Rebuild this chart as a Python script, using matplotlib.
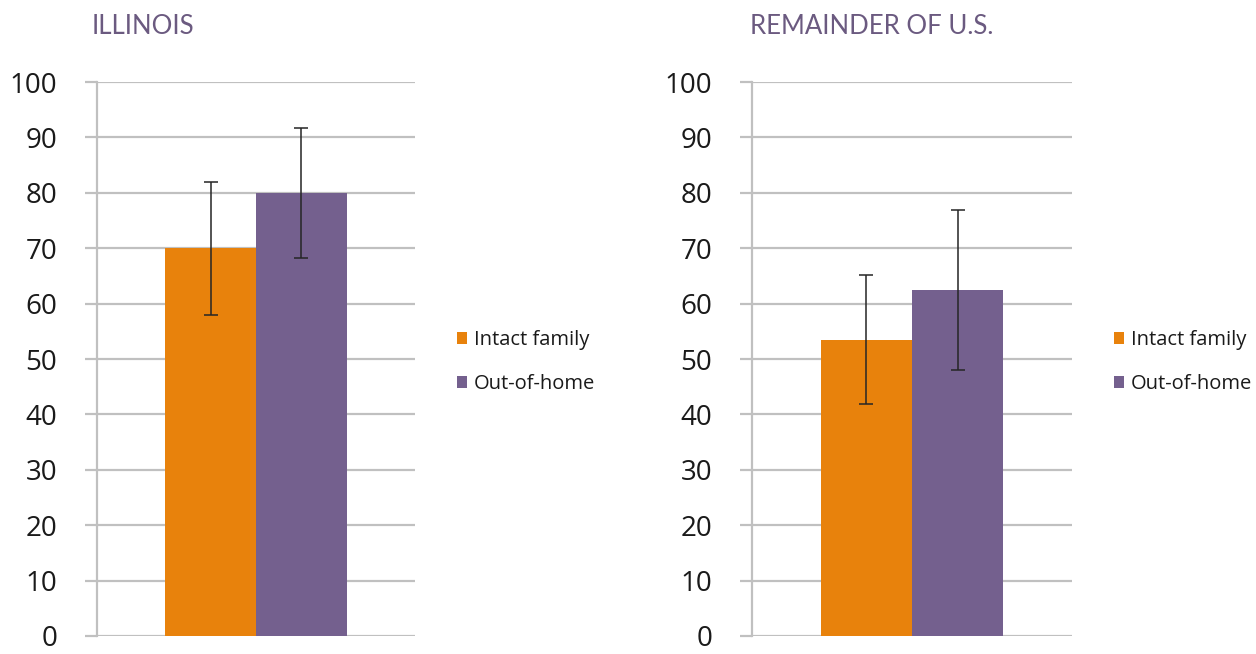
import matplotlib
matplotlib.use("Agg")
import matplotlib.pyplot as plt
from matplotlib.patches import Patch

panels = ["ILLINOIS", "REMAINDER OF U.S."]
series = ["Intact family", "Out-of-home"]
intact_values = [70.0, 53.5]
outofhome_values = [80.0, 62.5]
intact_err = [12.0, 11.7]
outofhome_err = [11.7, 14.4]
yticks = [0, 10, 20, 30, 40, 50, 60, 70, 80, 90, 100]

colors = ["#E8820C", "#74608E"]
grid_c = "#C0C0C0"
title_c = "#6B5A80"

W, H = 1256, 654
fig = plt.figure(figsize=(W / 100, H / 100), dpi=100)

axes_px = [(97, 415), (752, 1072)]
legend_x = [457, 1114]
title_x = [92, 750]
top_px, bot_px = 82, 636
w = 0.285

for i, (x0, x1) in enumerate(axes_px):
    ax = fig.add_axes([x0 / W, 1 - bot_px / H, (x1 - x0) / W, (bot_px - top_px) / H])
    vals = [intact_values[i], outofhome_values[i]]
    errs = [intact_err[i], outofhome_err[i]]
    xs = [0.5 - w / 2, 0.5 + w / 2]
    ax.bar(xs, vals, width=w, color=colors, zorder=2)
    ax.errorbar(xs, vals, yerr=errs, fmt="none", ecolor="#262626", elinewidth=1.3,
                capsize=5, capthick=1.3, alpha=0.85, zorder=3)
    ax.set_xlim(0, 1)
    ax.set_ylim(0, 100)
    ax.set_yticks(yticks)
    ax.set_xticks([])
    ax.yaxis.grid(True, color=grid_c, linewidth=1.6, zorder=0)
    ax.set_axisbelow(True)
    for s in ["top", "right", "bottom"]:
        ax.spines[s].set_visible(False)
    ax.spines["left"].set_color(grid_c)
    ax.spines["left"].set_linewidth(1.6)
    ax.spines["left"].set_zorder(1)
    ax.tick_params(axis="y", length=8.6, width=1.6, color=grid_c, pad=20,
                   labelsize=20, labelcolor="#1a1a1a")
    for lab in ax.get_yticklabels():
        lab.set_fontfamily("Open Sans")
    fig.text(title_x[i] / W, 1 - 27 / H, panels[i], color=title_c, fontsize=18.5,
             fontfamily="Lato", va="center", ha="left")
    handles = [Patch(facecolor=colors[k], edgecolor="none", label=series[k]) for k in range(2)]
    leg = fig.legend(handles=handles, loc="center left",
                     bbox_to_anchor=(legend_x[i] / W, 1 - 362 / H),
                     frameon=False, handlelength=0.52, handleheight=0.52,
                     handletextpad=0.3, labelspacing=1.2, borderaxespad=0,
                     borderpad=0, prop={"family": "Open Sans", "size": 14.5})
    for t in leg.get_texts():
        t.set_color("#1a1a1a")

fig.savefig("out.png", dpi=100, facecolor="white")
